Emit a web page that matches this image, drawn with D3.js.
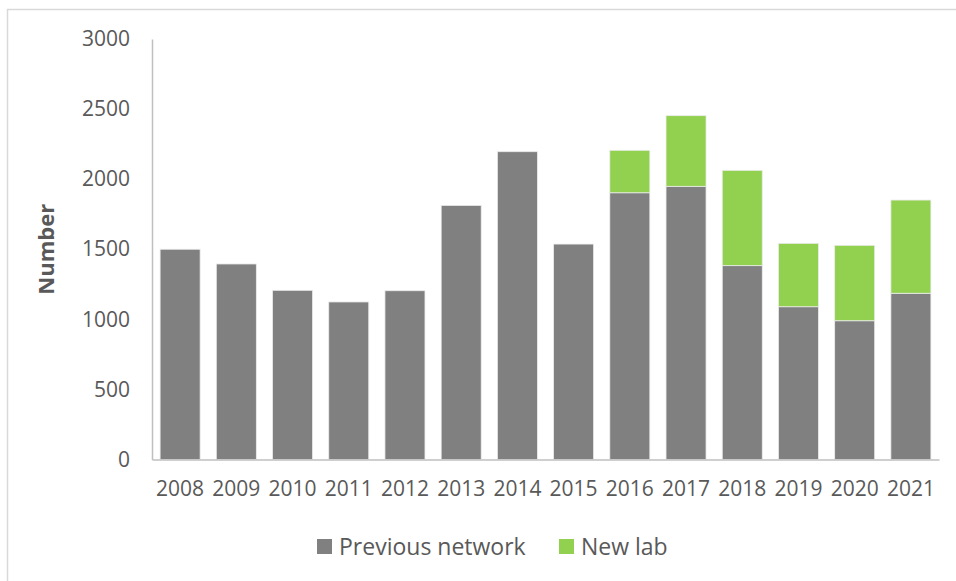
<!DOCTYPE html>
<html>
<head>
<meta charset="utf-8">
<script src="https://cdn.jsdelivr.net/npm/d3@7"></script>
<style>
  html, body { margin: 0; padding: 0; background: #fff; }
  svg { display: block; }
</style>
</head>
<body>
<svg id="chart" width="956" height="581"></svg>
<script>
// Yearly counts, split by source
const years = ["2008", "2009", "2010", "2011", "2012", "2013", "2014",
               "2015", "2016", "2017", "2018", "2019", "2020", "2021"];
const previousNetwork = [1500, 1395, 1207, 1124, 1204, 1813, 2196,
                         1537, 1903, 1949, 1383, 1090, 990, 1186];
const newLab = [0, 0, 0, 0, 0, 0, 0,
                0, 303, 504, 680, 452, 538, 665];
const yTicks = [0, 500, 1000, 1500, 2000, 2500, 3000];
const seriesNames = ["Previous network", "New lab"];
const seriesColors = ["#808080", "#92D050"];

const svg = d3.select("#chart");
const font = "'Open Sans', 'Liberation Sans', sans-serif";
const textColor = "#595959";

// Outer chart frame
svg.append("rect")
  .attr("x", 7.5).attr("y", 9.5)
  .attr("width", 960).attr("height", 600)
  .attr("fill", "none").attr("stroke", "#d9d9d9").attr("stroke-width", 1.5);

const plot = { left: 152, right: 939, top: 39, bottom: 459.5 };

const x = d3.scaleBand()
  .domain(years)
  .range([plot.left, plot.right])
  .paddingInner(0.288)
  .paddingOuter(0.144);

const y = d3.scaleLinear()
  .domain([0, 3000])
  .range([plot.bottom, plot.top]);

// Stack the two series
const rows = years.map((yr, i) => ({ year: yr, prev: previousNetwork[i], lab: newLab[i] }));
const stack = d3.stack().keys(["prev", "lab"]);
const layers = stack(rows);

svg.append("g").selectAll("g")
  .data(layers)
  .join("g")
  .attr("fill", (d, i) => seriesColors[i])
  .selectAll("rect")
  .data(d => d.filter(s => s[1] > s[0]))
  .join("rect")
  .attr("x", d => x(d.data.year))
  .attr("width", x.bandwidth())
  .attr("y", d => y(d[1]))
  .attr("height", d => y(d[0]) - y(d[1]))
  .attr("stroke", "#ececec")
  .attr("stroke-width", 0.8);

// Y axis: line and labels, no tick marks
const yAxis = d3.axisLeft(y).tickValues(yTicks).tickFormat(d3.format("d"))
  .tickSize(0).tickPadding(22);
const gy = svg.append("g")
  .attr("transform", `translate(${plot.left},0)`)
  .call(yAxis);
gy.select(".domain").attr("stroke", "#bfbfbf").attr("stroke-width", 1.5);
gy.selectAll("text")
  .attr("font-family", font).attr("font-size", 21).attr("fill", textColor);

// X axis: baseline and year labels
const xAxis = d3.axisBottom(x).tickSize(0).tickPadding(22);
const gx = svg.append("g")
  .attr("transform", `translate(0,${plot.bottom})`)
  .call(xAxis);
gx.select(".domain").attr("stroke", "#bfbfbf").attr("stroke-width", 1.5);
gx.selectAll("text")
  .attr("font-family", font).attr("font-size", 21).attr("fill", textColor);

// Y axis title
svg.append("text")
  .attr("transform", `translate(54,${(plot.top + plot.bottom) / 2}) rotate(-90)`)
  .attr("text-anchor", "middle")
  .attr("font-family", font).attr("font-size", 22).attr("font-weight", "bold")
  .attr("fill", textColor)
  .text("Number");

// Legend
const legendItems = [
  { name: seriesNames[0], color: seriesColors[0], x: 317 },
  { name: seriesNames[1], color: seriesColors[1], x: 559 }
];
const lg = svg.append("g").selectAll("g")
  .data(legendItems)
  .join("g")
  .attr("transform", d => `translate(${d.x},539)`);
lg.append("rect")
  .attr("width", 15).attr("height", 15)
  .attr("fill", d => d.color);
lg.append("text")
  .attr("x", 22).attr("y", 15.5)
  .attr("font-family", font).attr("font-size", 23).attr("fill", textColor)
  .text(d => d.name);
</script>
</body>
</html>
